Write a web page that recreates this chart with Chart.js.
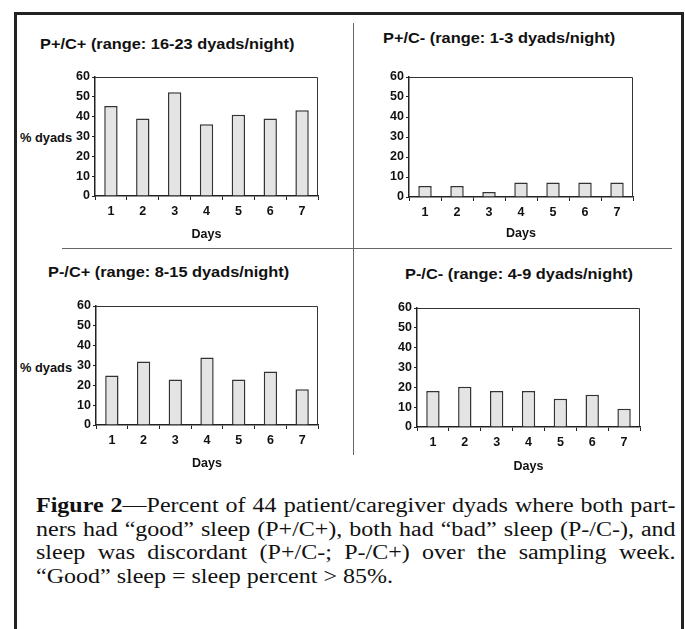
<!DOCTYPE html>
<html>
<head>
<meta charset="utf-8">
<script src="https://cdn.jsdelivr.net/npm/chart.js"></script>
<style>
  body { margin: 0; background: #fff; width: 685px; height: 629px; overflow: hidden; position: relative;
         font-family: "Liberation Sans", Arial, sans-serif; color: #111; }
  .frame { position: absolute; left: 14px; top: 12px; width: 670px; height: 640px; box-sizing: border-box;
           border: 3px solid #222; border-bottom: none; }
  .hline { position: absolute; left: 62px; top: 248px; width: 610px; height: 0; border-top: 1.5px solid #666; }
  .vline { position: absolute; left: 353px; top: 23px; width: 0; height: 432px; border-left: 1.5px solid #666; }
  .ptitle { position: absolute; font-weight: bold; font-size: 15px; line-height: 18px; white-space: nowrap;
            transform: scaleX(1.09); transform-origin: left top; }
  .ylab { position: absolute; font-weight: bold; font-size: 12px; line-height: 14px; white-space: nowrap;
          transform: scaleX(1.07); transform-origin: left top; }
  canvas { position: absolute; }
  .caption { position: absolute; left: 36px; top: 494px; width: 533px; font-family: "Liberation Serif", "Times New Roman", serif;
             font-size: 20px; line-height: 23.5px; color: #111; transform: scaleX(1.2); transform-origin: left top; }
  .caption .j { text-align: justify; text-align-last: justify; }
</style>
</head>
<body>
<div class="frame"></div>
<div class="hline"></div>
<div class="vline"></div>

<div class="ptitle" id="t1" style="left:40px; top:35px;"></div>
<div class="ptitle" id="t2" style="left:383px; top:29px;"></div>
<div class="ptitle" id="t3" style="left:48px; top:263px;"></div>
<div class="ptitle" id="t4" style="left:405px; top:265px;"></div>

<div class="ylab" style="left:20px; top:131px;">% dyads</div>
<div class="ylab" style="left:20px; top:361px;">% dyads</div>

<canvas id="c1" width="278" height="179" style="left:50px; top:67px;"></canvas>
<canvas id="c2" width="279" height="180" style="left:364px; top:67px;"></canvas>
<canvas id="c3" width="277" height="179" style="left:51px; top:296px;"></canvas>
<canvas id="c4" width="278" height="179" style="left:372px; top:298px;"></canvas>

<div class="caption">
  <div class="j"><b>Figure 2</b>—Percent of 44 patient/caregiver dyads where both part-</div>
  <div class="j">ners had “good” sleep (P+/C+), both had “bad” sleep (P-/C-), and</div>
  <div class="j">sleep was discordant (P+/C-; P-/C+) over the sampling week.</div>
  <div>“Good” sleep = sleep percent &gt; 85%.</div>
</div>

<script>
// data
var days = ['1', '2', '3', '4', '5', '6', '7'];
var yTicks = [0, 10, 20, 30, 40, 50, 60];

var pPlusCPlus = [45.4, 39.1, 52.3, 36.2, 41.0, 39.1, 43.2];
var pPlusCMinus = [5.5, 5.5, 2.5, 7.3, 7.3, 7.3, 7.3];
var pMinusCPlus = [25.0, 32.0, 23.0, 34.0, 23.0, 27.0, 18.0];
var pMinusCMinus = [18.1, 20.3, 18.1, 18.1, 14.3, 16.3, 9.2];

var panelTitles = [
    'P+/C+ (range: 16-23 dyads/night)',
    'P+/C- (range: 1-3 dyads/night)',
    'P-/C+ (range: 8-15 dyads/night)',
    'P-/C- (range: 4-9 dyads/night)'
];
var xTitle = 'Days';

Chart.defaults.font.family = '"Liberation Sans", Arial, sans-serif';
Chart.defaults.color = '#111';

// top and right edge of the plot box
var framePlugin = {
    id: 'frame',
    afterDraw: function (chart) {
        var a = chart.chartArea;
        var ctx = chart.ctx;
        ctx.save();
        ctx.strokeStyle = '#333';
        ctx.lineWidth = 1;
        ctx.beginPath();
        ctx.moveTo(a.left, Math.round(a.top) + 0.5);
        ctx.lineTo(Math.round(a.right) - 0.5, Math.round(a.top) + 0.5);
        ctx.lineTo(Math.round(a.right) - 0.5, a.bottom);
        ctx.stroke();
        ctx.restore();
    }
};

function buildChart(id, values, daysPad) {
    var ctx = document.getElementById(id).getContext('2d');
    return new Chart(ctx, {
        type: 'bar',
        data: {
            labels: days,
            datasets: [{
                data: values,
                backgroundColor: '#e4e4e4',
                borderColor: '#333',
                borderWidth: 1.5,
                barPercentage: 0.42,
                categoryPercentage: 1
            }]
        },
        options: {
            responsive: false,
            animation: false,
            devicePixelRatio: 1,
            layout: { padding: { left: 0, top: 10, right: 10, bottom: 0 } },
            plugins: { legend: { display: false }, tooltip: { enabled: false } },
            scales: {
                x: {
                    grid: { display: true, drawOnChartArea: false, drawTicks: true, tickLength: 4, offset: true, color: '#222' },
                    border: { display: true, color: '#222', width: 1.5 },
                    ticks: { font: { size: 12.5, weight: 'bold' }, padding: 4, maxRotation: 0, autoSkip: false },
                    title: { display: true, text: xTitle, font: { size: 12.5, weight: 'bold' }, padding: { top: 0, bottom: daysPad } },
                    afterFit: function (s) { s.height = 50; s.paddingLeft = 0; s.paddingRight = 0; }
                },
                y: {
                    min: yTicks[0],
                    max: yTicks[yTicks.length - 1],
                    afterBuildTicks: function (s) { s.ticks = yTicks.map(function (v) { return { value: v }; }); },
                    grid: { drawOnChartArea: false, drawTicks: true, tickLength: 3, color: '#222' },
                    border: { display: true, color: '#222', width: 1.5 },
                    ticks: { font: { size: 12.5, weight: 'bold' }, padding: 2 },
                    afterFit: function (s) { s.width = 45; s.paddingTop = 0; s.paddingBottom = 0; }
                }
            }
        },
        plugins: [framePlugin]
    });
}

['t1', 't2', 't3', 't4'].forEach(function (id, i) {
    document.getElementById(id).textContent = panelTitles[i];
});

buildChart('c1', pPlusCPlus, 3.5);
buildChart('c2', pPlusCMinus, 6);
buildChart('c3', pMinusCPlus, 3.5);
buildChart('c4', pMinusCMinus, 2.5);
</script>
</body>
</html>
